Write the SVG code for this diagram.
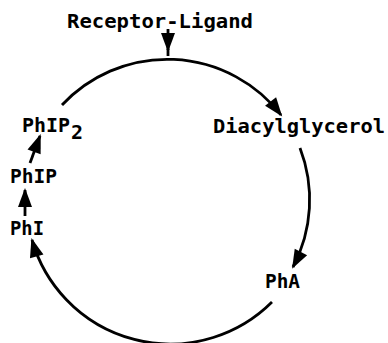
<svg xmlns="http://www.w3.org/2000/svg" width="388" height="343" viewBox="0 0 388 343">
<style>
.t{font-family:"DejaVu Sans Mono","Liberation Mono",monospace;font-size:20px;font-weight:bold;fill:#000}
.c{fill:none;stroke:#000;stroke-width:2.8;stroke-linecap:butt}
</style>
<defs>
<marker id="ah" markerUnits="userSpaceOnUse" markerWidth="20" markerHeight="15" refX="17" refY="7" orient="auto" overflow="visible">
<path d="M0,0 L19,7 L0,14 z" fill="#000"/>
</marker>
</defs>
<rect width="388" height="343" fill="#fff"/>
<g id="connectors">
<path class="c" d="M168 29 V50" marker-end="url(#ah)"/>
<path class="c" d="M168 49 V56"/>
<path class="c" d="M62 105 A144 144 0 0 1 281 115" marker-end="url(#ah)"/>
<path class="c" d="M300 148 A144 144 0 0 1 293 267" marker-end="url(#ah)"/>
<path class="c" d="M272 302 A144 144 0 0 1 32 240" marker-end="url(#ah)"/>
<path class="c" d="M25 216 V190" marker-end="url(#ah)"/>
<path class="c" d="M30 163 L40 136" marker-end="url(#ah)"/>
</g>
<g id="receptor-ligand"><text class="t" x="67" y="28" textLength="186" lengthAdjust="spacingAndGlyphs">Receptor-Ligand</text></g>
<g id="diacylglycerol"><text class="t" x="213" y="133" textLength="172" lengthAdjust="spacingAndGlyphs">Diacylglycerol</text></g>
<g id="pha"><text class="t" x="265" y="288" textLength="35" lengthAdjust="spacingAndGlyphs">PhA</text></g>
<g id="phi"><text class="t" x="10" y="235" textLength="34" lengthAdjust="spacingAndGlyphs">PhI</text></g>
<g id="phip"><text class="t" x="10" y="183" textLength="47" lengthAdjust="spacingAndGlyphs">PhIP</text></g>
<g id="phip2"><text class="t" x="22" y="132"><tspan textLength="48" lengthAdjust="spacingAndGlyphs">PhIP</tspan><tspan x="71" y="139">2</tspan></text></g>
</svg>
